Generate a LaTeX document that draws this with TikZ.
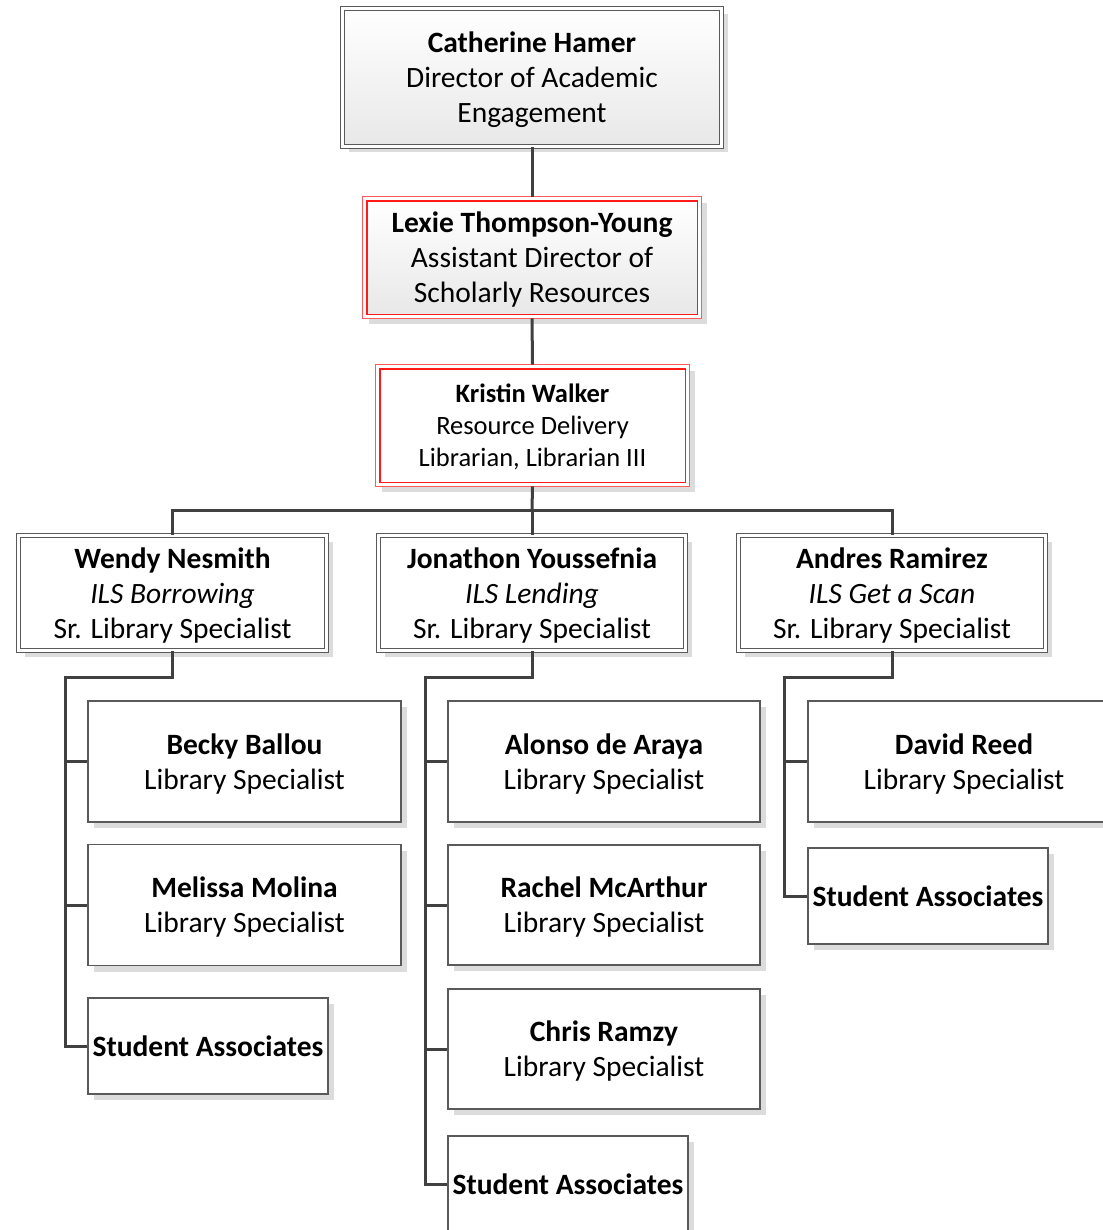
\documentclass[tikz,border=0pt]{standalone}
\usepackage{fontspec}
\setmainfont{Carlito}
\usetikzlibrary{shadows,backgrounds}
\definecolor{lc}{HTML}{404040}
\definecolor{bc}{HTML}{5A5A5A}
\definecolor{sh}{HTML}{DCDCDC}
\definecolor{rd}{HTML}{FF1A1A}
\definecolor{rdo}{HTML}{FF5A5A}
\tikzset{
  shad/.style={drop shadow={shadow xshift=6pt, shadow yshift=-6pt, fill=sh, opacity=1}},
  big/.style={font=\fontsize{29.5}{35}\selectfont},
  dbox/.style={shad, draw=bc, double=white, double distance=3pt, line width=1pt,
    fill=white, align=center, inner sep=0pt, big, text depth=0pt},
  rbox/.style={draw=rd, line width=0.9pt, fill=white, align=center, inner sep=0pt, big, text depth=0pt},
  rout/.style={draw=rdo, line width=1pt},
  rin/.style={draw=rd, line width=0.9pt},
  sbox/.style={shad, draw=bc, line width=1.1pt, fill=white, align=center, inner sep=0pt, big,
    minimum width=313pt, minimum height=121pt, text depth=0pt},
  sabox/.style={sbox, minimum width=240pt, minimum height=96pt},
  conn/.style={draw=lc, line width=3pt}
}
\begin{document}
\begin{tikzpicture}[x=1pt,y=-1pt]
\useasboundingbox (0,0) rectangle (1102,1230);
\begin{scope}[on background layer]
\fill[white] (0,0) rectangle (1102,1230);
\end{scope}

\coordinate (bus) at (532,510);
\coordinate (wtop) at (65,677);
\coordinate (jtop) at (425,677);
\coordinate (atop) at (784,677);

\node[dbox, top color=white, bottom color=black!9, minimum width=379pt, minimum height=138pt] (top) at (532,77.5)
  {\textbf{Catherine Hamer}\\Director of Academic\\Engagement};
\node[rbox, top color=white, bottom color=black!9, minimum width=330pt, minimum height=113pt] (lexie) at (532,257.5)
  {\textbf{Lexie Thompson-Young}\\Assistant Director of\\Scholarly Resources};
\node[rbox, minimum width=305pt, minimum height=113pt, font=\fontsize{26.5}{32}\selectfont] (kristin) at (532.5,425.5)
  {\textbf{Kristin Walker}\\Resource Delivery\\Librarian, Librarian III};

% outer red frames with their shadows
\foreach \n in {lexie,kristin}{
  \begin{scope}[on background layer]
    \fill[sh] ([shift={(2pt,-2pt)}]\n.north west) rectangle ([shift={(10pt,-10pt)}]\n.south east);
    \fill[white] ([shift={(-4pt,4pt)}]\n.north west) rectangle ([shift={(4pt,-4pt)}]\n.south east);
  \end{scope}
  \draw[rout] ([shift={(-4pt,4pt)}]\n.north west) rectangle ([shift={(4pt,-4pt)}]\n.south east);
  \draw[rin] (\n.north west) rectangle (\n.south east);
}

\node[dbox, minimum width=308pt, minimum height=115pt] (wendy) at (172.5,593)
  {\textbf{Wendy Nesmith}\\\textit{ILS Borrowing}\\Sr. Library Specialist};
\node[dbox, minimum width=307pt, minimum height=115pt] (jon) at (532,593)
  {\textbf{Jonathon Youssefnia}\\\textit{ILS Lending}\\Sr. Library Specialist};
\node[dbox, minimum width=307pt, minimum height=115pt] (andres) at (892,593)
  {\textbf{Andres Ramirez}\\\textit{ILS Get a Scan}\\Sr. Library Specialist};

\node[sbox] (becky) at (244.5,761.5) {\textbf{Becky Ballou}\\Library Specialist};
\node[sbox] (melissa) at (244.5,905) {\textbf{Melissa Molina}\\Library Specialist};
\node[sabox] (sa1) at (208,1046) {\textbf{Student Associates}};

\node[sbox, minimum width=312pt] (alonso) at (604,761.5) {\textbf{Alonso de Araya}\\Library Specialist};
\node[sbox, minimum width=312pt, minimum height=120pt] (rachel) at (604,905) {\textbf{Rachel McArthur}\\Library Specialist};
\node[sbox, minimum width=312pt, minimum height=120pt] (chris) at (604,1049) {\textbf{Chris Ramzy}\\Library Specialist};
\node[sabox] (sa2) at (568,1184) {\textbf{Student Associates}};

\node[sbox, minimum width=312pt] (david) at (964,761.5) {\textbf{David Reed}\\Library Specialist};
\node[sabox] (sa3) at (928,896) {\textbf{Student Associates}};

\draw[conn] (top.south) -- ([yshift=4pt]lexie.north);
\draw[conn] ([yshift=-4pt]lexie.south) -- ([yshift=4pt]kristin.north);
\draw[conn] ([yshift=-4pt]kristin.south) -- (bus);
\draw[conn] (bus) -| (wendy.north);
\draw[conn] (bus) -- (jon.north);
\draw[conn] (bus) -| (andres.north);

\draw[conn] (wendy.south) |- (wtop) |- (sa1.west);
\draw[conn] (wtop |- becky.west) -- (becky.west);
\draw[conn] (wtop |- melissa.west) -- (melissa.west);

\draw[conn] (jon.south) |- (jtop) |- (sa2.west);
\draw[conn] (jtop |- alonso.west) -- (alonso.west);
\draw[conn] (jtop |- rachel.west) -- (rachel.west);
\draw[conn] (jtop |- chris.west) -- (chris.west);

\draw[conn] (andres.south) |- (atop) |- (sa3.west);
\draw[conn] (atop |- david.west) -- (david.west);
\end{tikzpicture}
\end{document}
